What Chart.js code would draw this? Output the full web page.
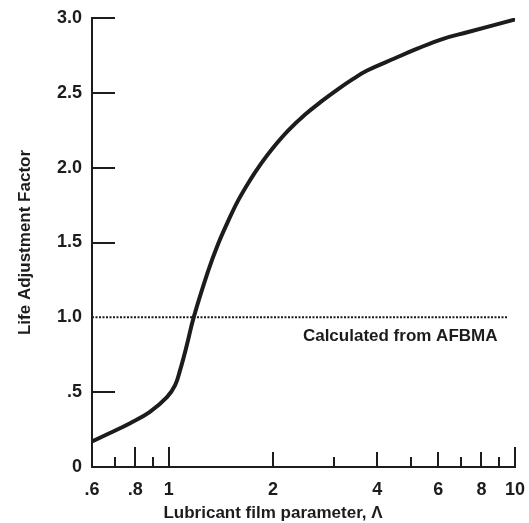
<!DOCTYPE html>
<html>
<head>
<meta charset="utf-8">
<script src="https://cdn.jsdelivr.net/npm/chart.js@4.4.1/dist/chart.umd.min.js"></script>
<style>
  html, body { margin: 0; padding: 0; background: #fff; }
  #wrap { width: 529px; height: 523px; }
</style>
</head>
<body>
<div id="wrap"><canvas id="lifeChart"></canvas></div>
<script>
// Life adjustment factor vs lubricant film parameter
const lambdaValues = [0.6, 0.676, 0.773, 0.88, 0.988, 1.043, 1.078, 1.129, 1.18, 1.298, 1.388, 1.484, 1.585, 1.717, 1.847, 1.988, 2.211, 2.476, 2.772, 3.084, 3.408, 3.74, 4.5, 5.22, 6.2, 7.28, 10];
const lifeFactor   = [0.17, 0.227, 0.293, 0.367, 0.467, 0.547, 0.647, 0.82, 1.0, 1.307, 1.49, 1.643, 1.78, 1.917, 2.027, 2.125, 2.247, 2.355, 2.446, 2.525, 2.593, 2.649, 2.731, 2.795, 2.861, 2.905, 2.99];

// AFBMA reference line
const afbmaLambda = [0.6, 9.5];
const afbmaFactor = [1.0, 1.0];

const xTickValues = [0.6, 0.8, 1, 2, 4, 6, 8, 10];
const xTickLabels = ['.6', '.8', '1', '2', '4', '6', '8', '10'];
const yTickLabels = ['0', '.5', '1.0', '1.5', '2.0', '2.5', '3.0'];

// inward tick marks
const xLongMarks = [0.8, 1, 10];
const xMidMarks = [2, 4, 6, 8];
const xShortMarks = [0.7, 0.9, 3, 5, 7, 9];
const yMarks = [0.5, 1.5, 2.0, 2.5, 3.0];

const ink = '#1c1c1c';
const font = '"Liberation Sans", Arial, Helvetica, sans-serif';

const drawExtras = {
    id: 'drawExtras',
    afterDraw(chart) {
        const { ctx, chartArea, scales: { x, y } } = chart;
        const base = y.getPixelForValue(0);
        const left = x.getPixelForValue(0.6);
        ctx.save();
        ctx.strokeStyle = ink;
        ctx.lineWidth = 2;
        const up = (vals, len) => vals.forEach(v => {
            const px = Math.round(x.getPixelForValue(v));
            ctx.beginPath();
            ctx.moveTo(px, base);
            ctx.lineTo(px, base - len);
            ctx.stroke();
        });
        up(xLongMarks, 20);
        up(xMidMarks, 15);
        up(xShortMarks, 10);
        yMarks.forEach(v => {
            const py = Math.round(y.getPixelForValue(v));
            ctx.beginPath();
            ctx.moveTo(left, py);
            ctx.lineTo(left + 23, py);
            ctx.stroke();
        });

        // text
        ctx.fillStyle = ink;
        ctx.font = 'bold 17px ' + font;
        ctx.textBaseline = 'middle';
        ctx.textAlign = 'left';
        ctx.fillText('Calculated from AFBMA', x.getPixelForValue(2.44), y.getPixelForValue(0.87));

        ctx.textAlign = 'center';
        ctx.fillText('Lubricant film parameter, \u039B', x.getPixelForValue(2.0), 513);

        ctx.translate(25, (chartArea.top + chartArea.bottom) / 2);
        ctx.rotate(-Math.PI / 2);
        ctx.fillText('Life Adjustment Factor', 0, 0);
        ctx.restore();
    }
};

new Chart(document.getElementById('lifeChart'), {
    type: 'line',
    data: {
        datasets: [{
            data: lambdaValues.map((v, i) => ({ x: v, y: lifeFactor[i] })),
            borderColor: ink,
            borderWidth: 4,
            pointRadius: 0,
            tension: 0.4,
            borderCapStyle: 'round'
        }, {
            data: afbmaLambda.map((v, i) => ({ x: v, y: afbmaFactor[i] })),
            borderColor: ink,
            borderWidth: 2,
            borderDash: [2, 1.5],
            pointRadius: 0
        }]
    },
    options: {
        responsive: true,
        maintainAspectRatio: false,
        animation: false,
        layout: {
            padding: { top: 18, right: 14, bottom: 0, left: 0 }
        },
        plugins: {
            legend: { display: false },
            tooltip: { enabled: false }
        },
        scales: {
            x: {
                type: 'logarithmic',
                min: 0.6,
                max: 10,
                afterBuildTicks: scale => {
                    scale.ticks = xTickValues.map(v => ({ value: v }));
                },
                afterFit: scale => {
                    scale.height = 56;
                    scale.paddingLeft = 0;
                    scale.paddingRight = 0;
                },
                ticks: {
                    color: ink,
                    autoSkip: false,
                    maxRotation: 0,
                    padding: 12,
                    font: { family: font, weight: 'bold', size: 18 },
                    callback: (val, i) => xTickLabels[i]
                },
                grid: { display: false, drawTicks: false },
                border: { display: true, color: ink, width: 2 }
            },
            y: {
                min: 0,
                max: 3,
                afterFit: scale => {
                    scale.width = 92;
                    scale.paddingTop = 0;
                    scale.paddingBottom = 0;
                },
                ticks: {
                    stepSize: 0.5,
                    color: ink,
                    padding: 10,
                    font: { family: font, weight: 'bold', size: 18 },
                    callback: (val, i) => yTickLabels[i]
                },
                grid: { display: false, drawTicks: false },
                border: { display: true, color: ink, width: 2 }
            }
        }
    },
    plugins: [drawExtras]
});
</script>
</body>
</html>
